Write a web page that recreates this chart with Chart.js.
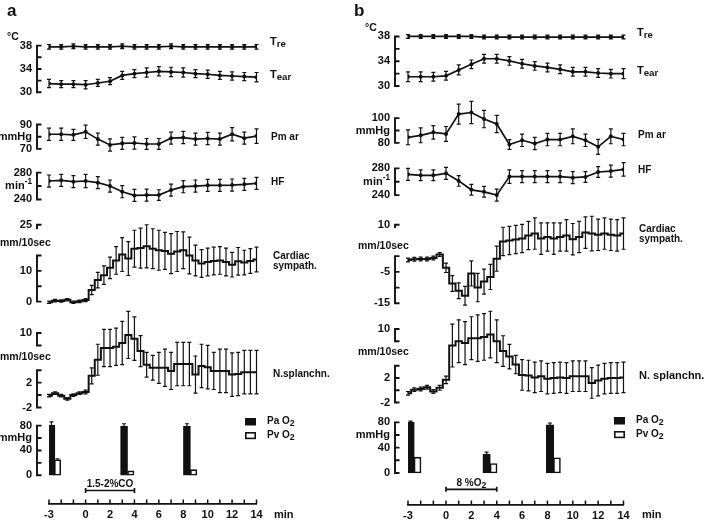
<!DOCTYPE html>
<html>
<head>
<meta charset="utf-8">
<script src="https://cdn.jsdelivr.net/npm/chart.js@4.4.1/dist/chart.umd.min.js"></script>
<style>
  html, body { margin: 0; padding: 0; background: #fff; }
  #wrap { position: relative; width: 704px; height: 521px; }
  canvas { position: absolute; top: 0; }
</style>
</head>
<body>
<div id="wrap">
  <canvas id="panelA" width="352" height="521" style="left:0"></canvas>
  <canvas id="panelB" width="352" height="521" style="left:352px"></canvas>
</div>
<script>
// sample times (min)
const minutes = [-3, -2, -1, 0, 1, 2, 3, 4, 5, 6, 7, 8, 9, 10, 11, 12, 13, 14]
const halfMinutes = [-3, -2.5, -2, -1.5, -1, -0.5, 0, 0.5, 1, 1.5, 2, 2.5, 3, 3.5, 4, 4.5, 5, 5.5, 6, 6.5, 7, 7.5, 8, 8.5, 9, 9.5, 10, 10.5, 11, 11.5, 12, 12.5, 13, 13.5, 14]
const timeLabels = [-3, 0, 2, 4, 6, 8, 10, 12, 14]

// panel a : 1.5-2% CO
const treA = [37.8, 37.8, 37.9, 37.8, 37.8, 37.8, 37.9, 37.8, 37.8, 37.8, 37.9, 37.8, 37.8, 37.8, 37.8, 37.8, 37.8, 37.8]
const treErrA = [0.4, 0.4, 0.4, 0.4, 0.4, 0.4, 0.4, 0.4, 0.4, 0.4, 0.4, 0.4, 0.4, 0.4, 0.4, 0.4, 0.4, 0.4]
const tearA = [31.5, 31.4, 31.4, 31.3, 31.6, 31.9, 32.9, 33.2, 33.4, 33.6, 33.5, 33.4, 33.2, 33.1, 32.9, 32.8, 32.7, 32.6]
const tearErrA = [0.7, 0.6, 0.6, 0.7, 0.6, 0.6, 0.7, 0.7, 0.8, 0.8, 0.8, 0.8, 0.7, 0.7, 0.7, 0.7, 0.7, 0.8]
const pmA = [82, 82, 81.5, 84, 78, 73.2, 74.5, 74.8, 74, 74, 78.8, 79.3, 78, 78.5, 78, 82, 78.8, 80.5]
const pmErrA = [5, 5, 4.5, 5.5, 5, 5, 5, 5, 4.5, 4.5, 5, 5, 5, 5, 5, 5.5, 5, 6]
const hfA = [267.5, 268.5, 266.5, 267.5, 265, 260, 251.5, 246, 246.5, 246.5, 254, 259, 260, 261, 261, 261.5, 262.5, 264]
const hfErrA = [9, 9, 9, 10, 9, 9, 9, 9, 9, 8, 9, 9, 9, 9, 9, 9, 9, 9]
const cardA = [-0.2, 0.3, 0.2, 0.6, -0.2, 0.1, 0.5, 3.8, 7, 8.6, 11, 13.4, 15.3, 14, 17.2, 17.4, 18, 17.2, 16.7, 16.5, 15.6, 16.3, 16.7, 15, 13.4, 12.4, 12.9, 13.2, 13.4, 12.9, 12, 13.1, 12.7, 13.2, 13.7]
const cardErrA = [0.4, 0.4, 0.4, 0.4, 0.4, 0.4, 0.5, 1.5, 2.5, 3, 3.5, 4.5, 5.5, 5.5, 6, 6.5, 7, 6.5, 6.5, 6, 6.5, 6.5, 6, 6, 5, 4.5, 4.5, 4.5, 4.5, 4.5, 4, 4.5, 4, 4, 4]
const nsplA = [-0.1, 0.3, -0.1, -0.6, 0.0, 0.3, 0.5, 3.1, 5.7, 7.6, 7.6, 7.8, 8.4, 9.7, 9.1, 7.1, 4.9, 4.4, 4.4, 4.4, 3.9, 5.0, 5.0, 5.0, 3.3, 4.7, 4.5, 3.9, 3.9, 3.9, 3.3, 3.4, 3.7, 3.7, 3.7]
const nsplErrA = [0.2, 0.2, 0.2, 0.2, 0.2, 0.2, 0.3, 1.3, 2.5, 3, 3, 3, 3.5, 3.8, 3.5, 2.5, 2, 2, 2.5, 3, 3, 3.5, 3.5, 3.5, 3, 3.5, 3.5, 3, 3.5, 3.5, 3.5, 3.5, 3.5, 3.5, 3.5]
const paTimesA = [-2.8, 3.15, 8.3]
const paA = [81, 79, 79]
const paErrA = [5, 4, 4]
const pvTimesA = [-2.3, 3.7, 8.85]
const pvA = [25, 7, 9]
const pvErrA = [1.5, 0, 0]

// panel b : 8% O2
const treB = [38, 38, 38, 38, 38, 38, 37.9, 37.9, 37.9, 37.9, 37.9, 37.9, 37.9, 37.9, 37.9, 37.9, 37.9, 37.9]
const treErrB = [0.3, 0.3, 0.3, 0.3, 0.3, 0.3, 0.3, 0.3, 0.3, 0.3, 0.3, 0.3, 0.3, 0.3, 0.3, 0.3, 0.3, 0.3]
const tearB = [31.5, 31.5, 31.5, 31.65, 32.6, 33.5, 34.4, 34.4, 34.05, 33.6, 33.25, 33.0, 32.7, 32.3, 32.3, 32.1, 32.0, 32.0]
const tearErrB = [0.8, 0.8, 0.7, 0.7, 0.8, 0.7, 0.7, 0.7, 0.7, 0.7, 0.7, 0.7, 0.7, 0.7, 0.7, 0.7, 0.7, 0.8]
const pmB = [84.5, 86.1, 88.5, 87.2, 103.2, 104.5, 99.2, 95.2, 78.7, 82.1, 79.5, 82.7, 82.7, 85.3, 82.1, 76.8, 85.3, 82.7]
const pmErrB = [6, 6, 5.5, 6, 8, 9, 7, 7, 4, 5, 5, 5, 5, 6, 5, 6, 6, 5]
const hfB = [271.1, 269.7, 269.7, 272.6, 261.3, 248, 245, 240.1, 267.7, 267.7, 267.7, 267.7, 267.7, 266.2, 267.2, 274.6, 276, 278.5]
const hfErrB = [9, 8, 8, 9, 8, 8, 8, 9, 10, 9, 9, 9, 9, 9, 8, 8, 9, 10]
const cardB = [-1.2, -1.0, -0.9, -0.9, -0.6, 0.5, -3.7, -8.7, -11, -12.6, -5.5, -10, -8.1, -6.6, -0.8, 4.7, 5.0, 5.3, 5.6, 6.6, 7.2, 5.6, 6.1, 5.6, 6.1, 6.6, 5.4, 6.1, 7.5, 7.2, 6.8, 7.2, 6.8, 6.6, 7.2]
const cardErrB = [0.6, 0.6, 0.6, 0.6, 0.6, 0.6, 1.5, 2.5, 2.5, 3, 4, 4.5, 4, 4, 4, 4.5, 4.5, 4.5, 4.5, 4.5, 5, 5, 4.5, 5, 4.5, 5, 5, 5, 5, 5.5, 5, 5, 5, 5, 5]
const nsplB = [-0.5, 0.1, 0.2, 0.5, -0.2, 0.4, 1.7, 7.3, 8.0, 7.7, 8.5, 8.5, 8.7, 9.1, 8.0, 6.4, 5.5, 4.2, 2.5, 2.4, 2.1, 2.3, 1.9, 2.0, 2.1, 2.0, 2.3, 2.3, 2.3, 1.2, 1.6, 1.9, 2.0, 2.0, 2.1]
const nsplErrB = [0.3, 0.3, 0.3, 0.3, 0.3, 0.4, 0.6, 3.5, 3.5, 3.5, 3.5, 3.8, 3.8, 3.8, 3.5, 2.5, 2, 1.5, 2.5, 2.5, 2.5, 2.5, 2.5, 2.5, 2.5, 2.5, 2.5, 2.5, 2.5, 2.5, 2.5, 2.5, 2.5, 2.5, 2.5]
const paTimesB = [-2.8, 3.2, 8.2]
const paB = [80, 30, 76]
const paErrB = [2, 3, 3]
const pvTimesB = [-2.25, 3.75, 8.75]
const pvB = [25, 15, 24]
const pvErrB = [0, 0, 0]

const INK = '#111'
const FONT = '"Liberation Sans", Arial, sans-serif'

// value range of a hidden axis so that v1 lands on pixel p1 and v2 on p2
function band(v1, p1, v2, p2, bottom) {
    const k = (p2 - p1) / (v1 - v2)
    const max = v1 + p1 / k
    return { min: max - bottom / k, max: max }
}

function pointLine(xs, ys, errs, axis) {
    return {
        type: 'line', yAxisID: axis,
        data: xs.map((x, i) => ({ x: x, y: ys[i] })),
        errors: errs,
        borderColor: INK, borderWidth: 1.7,
        pointRadius: 2, pointBackgroundColor: INK, pointBorderWidth: 0,
        fill: false, tension: 0
    }
}

function stepLine(xs, ys, errs, axis) {
    return {
        type: 'line', yAxisID: axis,
        data: xs.map((x, i) => ({ x: x, y: ys[i] })),
        errors: errs,
        stepped: 'middle',
        borderColor: INK, borderWidth: 2,
        pointRadius: 0, fill: false
    }
}

function barSet(xs, ys, errs, axis, fill, width) {
    return {
        type: 'bar', yAxisID: axis,
        data: xs.map((x, i) => ({ x: x, y: ys[i] })),
        errors: errs, errorsUp: true,
        backgroundColor: fill, borderColor: INK, borderWidth: 1.6,
        borderSkipped: false, barThickness: width, grouped: false
    }
}

// bold text with an optional sub (_) or superscript (^) tail
function drawText(ctx, str, x, y, size, align) {
    const m = str.match(/^([^_^]*)([_^])(.*)$/)
    const parts = m
        ? (m[2] === '_' ? [[m[1], size, 0], [m[3], size * 0.88, size * 0.25]]
                        : [[m[1], size, 0], [m[3], size * 0.75, -size * 0.38]])
        : [[str, size, 0]]
    let w = 0
    parts.forEach(([t, s]) => { ctx.font = 'bold ' + s + 'px ' + FONT; w += ctx.measureText(t).width })
    let cx = align === 'right' ? x - w : align === 'center' ? x - w / 2 : x
    ctx.textAlign = 'left'
    ctx.textBaseline = 'middle'
    parts.forEach(([t, s, dy]) => {
        ctx.font = 'bold ' + s + 'px ' + FONT
        ctx.fillText(t, cx, y + dy)
        cx += ctx.measureText(t).width
    })
}

const errorBars = {
    id: 'errorBars',
    afterDatasetsDraw(chart) {
        const ctx = chart.ctx
        chart.data.datasets.forEach((ds, i) => {
            if (!ds.errors) return
            const meta = chart.getDatasetMeta(i)
            const y = chart.scales[ds.yAxisID]
            ctx.save()
            ctx.strokeStyle = INK
            ctx.lineWidth = 1.2
            meta.data.forEach((el, j) => {
                const v = ds.data[j].y
                const e = ds.errors[j]
                if (!e) return
                const top = y.getPixelForValue(v + e)
                const bot = y.getPixelForValue(ds.errorsUp ? v : v - e)
                ctx.beginPath()
                ctx.moveTo(el.x, top)
                ctx.lineTo(el.x, bot)
                ctx.moveTo(el.x - 2, top)
                ctx.lineTo(el.x + 2, top)
                if (!ds.errorsUp) {
                    ctx.moveTo(el.x - 2, bot)
                    ctx.lineTo(el.x + 2, bot)
                }
                ctx.stroke()
            })
            ctx.restore()
        })
    }
}

// bracket axes, names, legend, gas bar, panel letter
function decor(L) {
    return {
        id: 'decor',
        afterDraw(chart) {
            const ctx = chart.ctx
            const xs = chart.scales.x
            ctx.save()
            ctx.strokeStyle = INK
            ctx.fillStyle = INK

            L.axes.forEach(ax => {
                const s = chart.scales[ax.id]
                ctx.lineWidth = 1.9
                ctx.beginPath()
                ax.segs.forEach(([a, b]) => {
                    ctx.moveTo(L.bracketX, s.getPixelForValue(a))
                    ctx.lineTo(L.bracketX, s.getPixelForValue(b))
                })
                ax.ticks.forEach(v => {
                    const py = s.getPixelForValue(v)
                    ctx.moveTo(L.bracketX - 0.95, py)
                    ctx.lineTo(L.bracketX + 4.5, py)
                })
                ctx.stroke()
                ax.labels.forEach(([v, text, leftX]) => {
                    if (leftX === undefined) drawText(ctx, text, L.labelX, s.getPixelForValue(v), 11, 'right')
                    else drawText(ctx, text, leftX, s.getPixelForValue(v), 10.5, 'left')
                })
            })

            // inward tick marks of the time axis
            ctx.lineWidth = 1.5
            ctx.beginPath()
            xs.ticks.forEach(t => {
                const px = xs.getPixelForValue(t.value)
                ctx.moveTo(px, L.axisY - 4.5)
                ctx.lineTo(px, L.axisY)
            })
            ctx.stroke()
            drawText(ctx, 'min', L.minX, 515, 11, 'left')

            // gas exposure bar
            const g0 = xs.getPixelForValue(L.gas[0])
            const g1 = xs.getPixelForValue(L.gas[1])
            ctx.lineWidth = 1.7
            ctx.beginPath()
            ctx.moveTo(g0, L.gasY); ctx.lineTo(g1, L.gasY)
            ctx.moveTo(g0, L.gasY - 2.5); ctx.lineTo(g0, L.gasY + 2.5)
            ctx.moveTo(g1, L.gasY - 2.5); ctx.lineTo(g1, L.gasY + 2.5)
            ctx.stroke()
            drawText(ctx, L.gasText, (g0 + g1) / 2, L.gasY - 6.5, 10, 'center')

            // series names
            L.names.forEach(([text, x, y, size]) => drawText(ctx, text, x, y, size || 10, 'left'))

            // legend
            ctx.lineWidth = 1.6
            ctx.fillRect(L.legend[0], L.legend[1], 11, 7.5)
            ctx.strokeRect(L.legend[0] + 0.8, L.legend[1] + 14.8, 9.4, 5.6)
            drawText(ctx, 'Pa O_2', L.legend[0] + 22, L.legend[1] + 3.5, 10, 'left')
            drawText(ctx, 'Pv O_2', L.legend[0] + 22, L.legend[1] + 17.5, 10, 'left')

            ctx.font = 'bold 17px ' + FONT
            ctx.textAlign = 'left'
            ctx.textBaseline = 'middle'
            ctx.fillText(L.letter, L.letterX, 11)
            ctx.restore()
        }
    }
}

function makePanel(canvasId, datasets, L) {
    const scales = {
        x: {
            type: 'linear', min: -3, max: 14, bounds: 'data', offset: false, position: 'bottom',
            grid: { display: false, drawTicks: false },
            border: { display: true, color: INK, width: 1.7 },
            ticks: {
                stepSize: 1, autoSkip: false, maxRotation: 0, padding: 4, color: INK,
                font: { family: FONT, size: 11, weight: 'bold' },
                callback: v => timeLabels.includes(v) ? String(v) : ''
            },
            afterFit: s => { s.height = 521 - L.axisY }
        }
    }
    L.bands.forEach(b => {
        const r = band(b[1], b[2], b[3], b[4], L.axisY)
        scales[b[0]] = { type: 'linear', display: false, bounds: 'data', min: r.min, max: r.max }
    })
    return new Chart(document.getElementById(canvasId), {
        type: 'line',
        data: { datasets: datasets },
        options: {
            responsive: false, animation: false, events: [], devicePixelRatio: 1,
            layout: { padding: { left: L.padLeft, right: L.padRight, top: 0, bottom: 0 } },
            plugins: { legend: { display: false }, tooltip: { enabled: false } },
            scales: scales
        },
        plugins: [errorBars, decor(L)]
    })
}

makePanel('panelA', [
    pointLine(minutes, treA, treErrA, 'yT'),
    pointLine(minutes, tearA, tearErrA, 'yT'),
    pointLine(minutes, pmA, pmErrA, 'yP'),
    pointLine(minutes, hfA, hfErrA, 'yH'),
    stepLine(halfMinutes, cardA, cardErrA, 'yC'),
    stepLine(halfMinutes, nsplA, nsplErrA, 'yN'),
    barSet(paTimesA, paA, paErrA, 'yB', INK, 7),
    barSet(pvTimesA, pvA, pvErrA, 'yB', '#fff', 6.5)
], {
    padLeft: 49, padRight: 95.5, axisY: 504, bracketX: 37, labelX: 32,
    bands: [['yT', 38, 42, 30, 89], ['yP', 90, 121.5, 70, 146], ['yH', 280, 170, 240, 197],
            ['yC', 25, 222.5, 0, 300], ['yN', 2, 381.7, -2, 406.7], ['yB', 80, 425, 0, 475]],
    axes: [
        { id: 'yT', segs: [[38, 30]], ticks: [38, 36, 34, 32, 30], labels: [[39.4, '°C', 7], [38, '38'], [34, '34'], [30, '30']] },
        { id: 'yP', segs: [[90, 70]], ticks: [90, 80, 70], labels: [[90, '90'], [80, 'mmHg'], [70, '70']] },
        { id: 'yH', segs: [[280, 240]], ticks: [280, 260, 240], labels: [[280, '280'], [260, 'min^-1'], [240, '240']] },
        { id: 'yC', segs: [[25, 23.5], [15, 0]], ticks: [25, 15, 10, 5, 0], labels: [[25, '25'], [18.9, 'mm/10sec', 0], [10, '10'], [0, '0']] },
        { id: 'yN', segs: [[10, 8], [4, -2]], ticks: [10, 8, 4, 2, 0, -2], labels: [[10, '10'], [6.1, 'mm/10sec', 0], [2, '2'], [-2, '-2']] },
        { id: 'yB', segs: [[80, 0]], ticks: [80, 60, 40, 20, 0], labels: [[80, '80'], [60, 'mmHg'], [40, '40'], [0, '0']] }
    ],
    names: [['T_re', 270, 42, 11], ['T_ear', 270, 75, 11], ['Pm ar', 271, 137], ['HF', 271, 182],
            ['Cardiac', 273, 256], ['sympath.', 273, 266], ['N.splanchn.', 273, 374]],
    legend: [245, 418],
    gas: [0, 4], gasY: 490.5, gasText: '1.5-2%CO',
    minX: 274, letter: 'a', letterX: 7
})

makePanel('panelB', [
    pointLine(minutes, treB, treErrB, 'yT'),
    pointLine(minutes, tearB, tearErrB, 'yT'),
    pointLine(minutes, pmB, pmErrB, 'yP'),
    pointLine(minutes, hfB, hfErrB, 'yH'),
    stepLine(halfMinutes, cardB, cardErrB, 'yC'),
    stepLine(halfMinutes, nsplB, nsplErrB, 'yN'),
    barSet(paTimesB, paB, paErrB, 'yB', INK, 7.5),
    barSet(pvTimesB, pvB, pvErrB, 'yB', '#fff', 7)
], {
    padLeft: 56, padRight: 80.5, axisY: 505, bracketX: 43, labelX: 38,
    bands: [['yT', 38, 32.7, 30, 82.7], ['yP', 100, 115, 80, 140], ['yH', 280, 165.7, 240, 192.7],
            ['yC', 10, 222.5, -15, 301.7], ['yN', 2, 377, -2, 401.7], ['yB', 80, 421.7, 0, 472.7]],
    axes: [
        { id: 'yT', segs: [[38, 30]], ticks: [38, 36, 34, 32, 30], labels: [[39.4, '°C', 13], [38, '38'], [34, '34'], [30, '30']] },
        { id: 'yP', segs: [[100, 80]], ticks: [100, 90, 80], labels: [[100, '100'], [90, 'mmHg'], [80, '80']] },
        { id: 'yH', segs: [[280, 240]], ticks: [280, 260, 240], labels: [[280, '280'], [260, 'min^-1'], [240, '240']] },
        { id: 'yC', segs: [[10, 9], [0, -15]], ticks: [10, 0, -5, -10, -15], labels: [[10, '10'], [3.2, 'mm/10sec', 6], [-5, '-5'], [-15, '-15']] },
        { id: 'yN', segs: [[10, 8], [4, -2]], ticks: [10, 8, 4, 2, 0, -2], labels: [[10, '10'], [6.2, 'mm/10sec', 6], [2, '2'], [-2, '-2']] },
        { id: 'yB', segs: [[80, 0]], ticks: [80, 60, 40, 20, 0], labels: [[80, '80'], [60, 'mmHg'], [40, '40'], [0, '0']] }
    ],
    names: [['T_re', 285, 33, 11], ['T_ear', 285, 71, 11], ['Pm ar', 286, 135], ['HF', 286, 170],
            ['Cardiac', 287, 229], ['sympath.', 287, 239], ['N. splanchn.', 287, 376, 11]],
    legend: [262, 417],
    gas: [0, 4], gasY: 489.3, gasText: '8 %O_2',
    minX: 290, letter: 'b', letterX: 2
})
</script>
</body>
</html>
